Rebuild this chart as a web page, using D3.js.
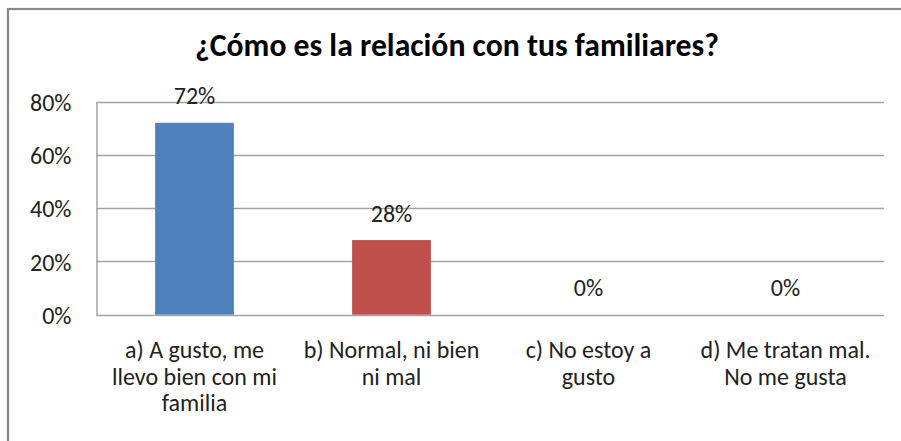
<!DOCTYPE html>
<html><head><meta charset="utf-8">
<script src="https://cdn.jsdelivr.net/npm/d3@7"></script>
<style>body{margin:0;background:#fff}svg{display:block}</style>
</head><body>
<svg id="c" width="901" height="441"></svg>
<script>
const title = "¿Cómo es la relación con tus familiares?";
const categories = ["a) A gusto, me llevo bien con mi familia","b) Normal, ni bien ni mal","c) No estoy a gusto","d) Me tratan mal. No me gusta"];
const categoryLines = [["a) A gusto, me","llevo bien con mi","familia"],["b) Normal, ni bien","ni mal"],["c) No estoy a","gusto"],["d) Me tratan mal.","No me gusta"]];
const values = [0.72, 0.28, 0, 0];
const colors = ["#4F81BD","#C0504D","#9BBB59","#8064A2"];
const yTicks = [0, 0.2, 0.4, 0.6, 0.8];

const FONT = "Calibri, Carlito, Lato, sans-serif";
const FS = 24;
const svg = d3.select("#c");
const W = 901, H = 441;
const m = {left:96, right:884, top:101.5, bottom:314.7};

svg.append("rect").attr("x",8).attr("y",9).attr("width",W+10).attr("height",H+10)
  .attr("fill","#fff").attr("stroke","#898989").attr("stroke-width",2.2);

const x = d3.scaleBand().domain(categories).range([m.left,m.right]).paddingInner(0.6).paddingOuter(0.3);
const y = d3.scaleLinear().domain([0,0.8]).range([m.bottom,m.top]);

// gridlines
svg.append("g").selectAll("line").data(yTicks).join("line")
  .attr("x1",m.left).attr("x2",m.right)
  .attr("y1",d=>Math.round(y(d))+0.5).attr("y2",d=>Math.round(y(d))+0.5)
  .attr("stroke","#A3A3A3").attr("stroke-width",1.3);

// y axis
const yAxis = d3.axisLeft(y).tickValues(yTicks).tickFormat(d3.format(".0%")).tickSize(0).tickPadding(25);
const ga = svg.append("g").attr("transform",`translate(${m.left+0.5},0)`).call(yAxis);
ga.select(".domain").attr("stroke","#A3A3A3").attr("stroke-width",1.5);
ga.selectAll("text").attr("font-family",FONT).attr("font-size",FS).attr("fill","#222").attr("dy","0.36em");

// bars
svg.append("g").selectAll("rect").data(values).join("rect")
  .attr("x",(d,i)=>x(categories[i])).attr("width",x.bandwidth())
  .attr("y",d=>y(d)).attr("height",d=>y(0)-y(d))
  .attr("fill",(d,i)=>colors[i]);

// data labels
svg.append("g").selectAll("text").data(values).join("text")
  .attr("x",(d,i)=>x(categories[i])+x.bandwidth()/2)
  .attr("y",d=>y(d)-18.5)
  .attr("text-anchor","middle").attr("font-family",FONT).attr("font-size",FS).attr("fill","#222")
  .text(d=>d3.format(".0%")(d));

// x labels
const xl = svg.append("g");
categories.forEach((c,i)=>{
  const t = xl.append("text").attr("text-anchor","middle").attr("font-family",FONT).attr("font-size",FS).attr("fill","#222");
  categoryLines[i].forEach((ln,j)=>{
    t.append("tspan").attr("x",x(c)+x.bandwidth()/2).attr("y",358+j*26.5).text(ln);
  });
});

// title
const tt = svg.append("text").attr("x",457).attr("y",56).attr("text-anchor","middle")
  .attr("font-family",FONT).attr("font-weight","bold").attr("font-size",24).attr("fill","#000").text(title);
const w = tt.node().getComputedTextLength();
tt.attr("font-size", 24*524/w);
</script>
</body></html>
